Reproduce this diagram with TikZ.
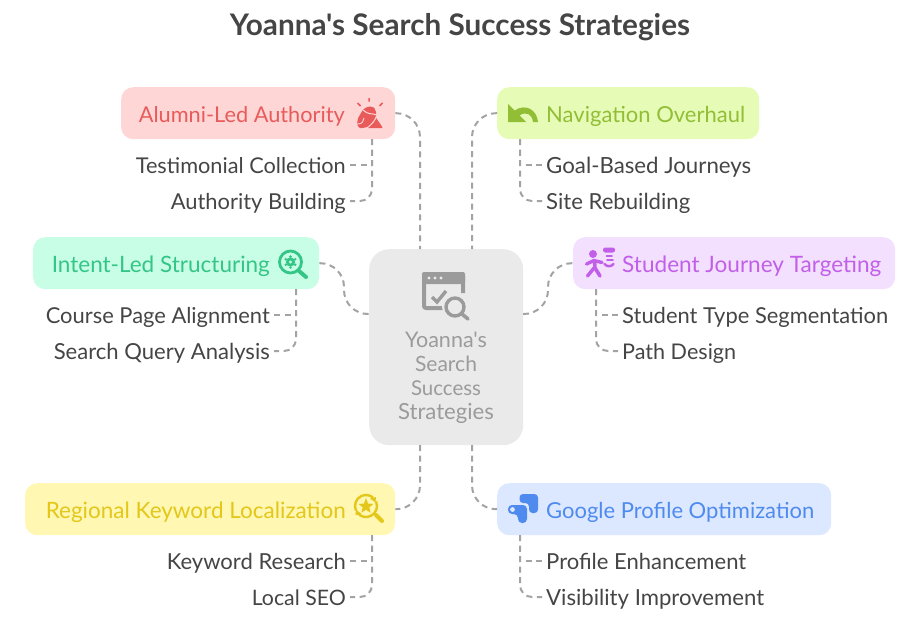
\documentclass[tikz,border=0pt]{standalone}
\usepackage{fontspec}
\setmainfont{Lato}[Ligatures=TeXOff]
\usetikzlibrary{calc}
\newcommand\fitto[2]{\resizebox{#1pt}{!}{#2}}
\definecolor{inkc}{HTML}{454545}
\definecolor{connc}{HTML}{A3A3A3}
\definecolor{hubfill}{HTML}{EAEAEA}
\definecolor{hubink}{HTML}{9B9B9B}
\definecolor{redfill}{HTML}{FFD6D6}
\definecolor{redink}{HTML}{E85B5B}
\definecolor{limefill}{HTML}{E6FCB6}
\definecolor{limeink}{HTML}{92BE36}
\definecolor{mintfill}{HTML}{C8FDE6}
\definecolor{mintink}{HTML}{35C587}
\definecolor{lilacfill}{HTML}{F3E0FF}
\definecolor{lilacink}{HTML}{C25FE8}
\definecolor{yellowfill}{HTML}{FFF7B2}
\definecolor{yellowink}{HTML}{E3C71A}
\definecolor{bluefill}{HTML}{DCE8FF}
\definecolor{blueink}{HTML}{4F8BEE}
\tikzset{
  x=1pt,y=-1pt,
  parentbox/.style={draw=none,rounded corners=12pt,minimum height=52pt,inner sep=0pt,anchor=north west},
  parenttext/.style={inner sep=0pt,text height=16pt,text depth=0pt,font=\fontsize{19}{22}\selectfont},
  leaftext/.style={inner ysep=0pt,inner xsep=4pt,text height=16pt,text depth=0pt,text=inkc,font=\fontsize{19}{22}\selectfont},
  hubtext/.style={inner sep=0pt,text height=16pt,text depth=0pt,text=hubink,font=\fontsize{19}{22}\selectfont},
  conn/.style={draw=connc,line width=2pt,dash pattern=on 6pt off 4.5pt},
}
\begin{document}
\begin{tikzpicture}
\useasboundingbox (0,0) rectangle (920,619);
\node[inner sep=0pt,text=inkc,font=\bfseries\fontsize{24}{28}\selectfont] (title) at (460,27) {\fitto{460}{Yoanna's Search Success Strategies}};

% hub
\node[fill=hubfill,rounded corners=20pt,minimum width=154pt,minimum height=196pt,inner sep=0pt,anchor=north west] (hub) at (369,249) {};
\node[hubtext] (hubA) at (446,339) {\fitto{82}{Yoanna's}};
\node[hubtext] (hubB) at (446,363) {\fitto{62}{Search}};
\node[hubtext] (hubC) at (446,387) {\fitto{70}{Success}};
\node[hubtext] (hubD) at (446,411) {\fitto{96}{Strategies}};
\coordinate (hubNW) at (420,249);
\coordinate (hubNE) at (472,249);
\coordinate (hubSW) at (420,445);
\coordinate (hubSE) at (472,445);
\coordinate (hubL) at (369,314);
\coordinate (hubR) at (523,314);
\coordinate (bendLa) at (344,263);
\coordinate (bendLb) at (344,314);
\coordinate (bendRa) at (548,314);
\coordinate (bendRb) at (548,263);

% parents
\node[parentbox,fill=redfill,minimum width=274pt] (alumni) at (121,87) {};
\node[parentbox,fill=limefill,minimum width=262pt] (nav) at (497,87) {};
\node[parentbox,fill=mintfill,minimum width=286pt] (intent) at (33,237) {};
\node[parentbox,fill=lilacfill,minimum width=322pt] (student) at (573,237) {};
\node[parentbox,fill=yellowfill,minimum width=370pt] (regional) at (25,483) {};
\node[parentbox,fill=bluefill,minimum width=334pt] (google) at (497,483) {};

\node[parenttext,text=redink,anchor=east] (alumniT) at (345,114) {\fitto{206}{Alumni-Led Authority}};
\node[parenttext,text=limeink,anchor=west] (navT) at (546,114) {\fitto{199}{Navigation Overhaul}};
\node[parenttext,text=mintink,anchor=east] (intentT) at (270,264) {\fitto{218}{Intent-Led Structuring}};
\node[parenttext,text=lilacink,anchor=west] (studentT) at (622,264) {\fitto{259}{Student Journey Targeting}};
\node[parenttext,text=yellowink,anchor=east] (regionalT) at (346,510) {\fitto{300}{Regional Keyword Localization}};
\node[parenttext,text=blueink,anchor=west] (googleT) at (546,510) {\fitto{268}{Google Profile Optimization}};

% leaves
\node[leaftext,anchor=east] (a1) at (350,165) {\fitto{210}{Testimonial Collection}};
\node[leaftext,anchor=east] (a2) at (350,201) {\fitto{175}{Authority Building}};
\node[leaftext,anchor=west] (n1) at (542,165) {\fitto{205}{Goal-Based Journeys}};
\node[leaftext,anchor=west] (n2) at (542,201) {\fitto{144}{Site Rebuilding}};
\node[leaftext,anchor=east] (i1) at (274,315) {\fitto{224}{Course Page Alignment}};
\node[leaftext,anchor=east] (i2) at (274,351) {\fitto{216}{Search Query Analysis}};
\node[leaftext,anchor=west] (s1) at (618,315) {\fitto{266}{Student Type Segmentation}};
\node[leaftext,anchor=west] (s2) at (618,351) {\fitto{114}{Path Design}};
\node[leaftext,anchor=east] (r1) at (350,561) {\fitto{179}{Keyword Research}};
\node[leaftext,anchor=east] (r2) at (350,597) {\fitto{94}{Local SEO}};
\node[leaftext,anchor=west] (g1) at (542,561) {\fitto{200}{Profile Enhancement}};
\node[leaftext,anchor=west] (g2) at (542,597) {\fitto{218}{Visibility Improvement}};

% trunks
\coordinate (aT) at (372,139);
\coordinate (nT) at (520,139);
\coordinate (iT) at (296,289);
\coordinate (sT) at (596,289);
\coordinate (rT) at (372,535);
\coordinate (gT) at (520,535);

% hub connectors
\draw[conn,rounded corners=24pt] (alumni.east) -| (hubNW);
\draw[conn,rounded corners=24pt] (nav.west) -| (hubNE);
\draw[conn,rounded corners=24pt] (hubSW) |- (regional.east);
\draw[conn,rounded corners=24pt] (hubSE) |- (google.west);
\draw[conn,rounded corners=24pt] (intent.east) -- (bendLa) -- (bendLb) -- (hubL);
\draw[conn,rounded corners=24pt] (hubR) -- (bendRa) -- (bendRb) -- (student.west);

% leaf connectors
\foreach \tr/\p/\q in {aT/a1/a2,iT/i1/i2,rT/r1/r2}{
  \draw[conn] (\tr) |- (\p.east);
  \draw[conn,rounded corners=12pt] (\tr) |- (\q.east);
}
\foreach \tr/\p/\q in {nT/n1/n2,sT/s1/s2,gT/g1/g2}{
  \draw[conn] (\tr) |- (\p.west);
  \draw[conn,rounded corners=12pt] (\tr) |- (\q.west);
}

% hub icon
\begin{scope}[hubink]
  \draw[line width=4pt,rounded corners=2pt] (445,308) -- (424,308) -- (424,274) -- (463,274) -- (463,293);
  \fill[rounded corners=2pt] (422,272) rectangle (465,284);
  \fill[hubfill] (429,278) circle[radius=1.6pt] (435,278) circle[radius=1.6pt] (441,278) circle[radius=1.6pt];
  \draw[line width=3.4pt] (432,297) -- (437,302) -- (446,291);
  \fill[hubfill] (455,307) circle[radius=13pt];
  \draw[line width=3.4pt] (455,307) circle[radius=9pt];
  \draw[line width=3.6pt,line cap=round] (462,314) -- (468,319);
\end{scope}

% alumni icon
\begin{scope}[redink]
  \draw[line width=1.5pt] (369,98) -- (369,101.5) (357.5,103) -- (360.5,106) (382.5,103) -- (379.5,106);
  \fill[rounded corners=2pt] (364,108) -- (372,106) -- (376,110) -- (376,118) -- (370,126) -- (364,128) -- (358,128) -- (357,120) -- (361,113) -- cycle;
  \fill[rounded corners=1pt] (375.5,117) -- (383,128) -- (367,128) -- cycle;
  \draw[redfill,line width=1pt] (363,110) .. controls (368,115) and (372,113) .. (377,115);
  \draw[redfill,line width=1pt] (377,115) .. controls (375,121) and (372,124) .. (367,128);
  \draw[redfill,line width=.9pt] (358,124) .. controls (362,124) and (364,121) .. (364,118);
\end{scope}

% nav icon
\fill[limeink] (508,104) -- (508,122) -- (526,122) -- (519.5,115.5) .. controls (526,111) and (532,114) .. (533,122) -- (538,122) .. controls (537,110) and (526,103) .. (514.5,110.5) -- cycle;

% intent icon
\begin{scope}[mintink]
  \draw[line width=2.8pt] (290.5,262) circle[radius=11pt];
  \draw[line width=4pt,line cap=round] (299,271) -- (306,277);
  \foreach \a in {30,90,...,330}{\fill (290.5,262) ++(\a:5.4pt) circle[radius=1.4pt];}
  \fill (290.5,262) circle[radius=4.6pt];
  \fill[mintfill] (290.5,262) circle[radius=1.7pt];
\end{scope}

% student icon
\begin{scope}[lilacink]
  \fill (593,254) circle[radius=4pt];
  \draw[line width=3.4pt,line cap=round,line join=round] (586.5,264) -- (594,260.5) -- (602,262.5);
  \draw[line width=3.6pt,line cap=round,line join=round] (594.5,261) -- (595,268) -- (600,276);
  \draw[line width=3.4pt,line cap=round] (594,268) -- (587.5,276);
  \fill[rounded corners=2.2pt] (603,247.5) rectangle (615,252.5);
  \draw[line width=1.7pt,line cap=round] (606.5,256) -- (612,256) (607,260) -- (613,260);
  \draw[line width=2.4pt,line cap=round] (604.5,264) .. controls (607,267) and (611,267) .. (613.5,264);
\end{scope}

% regional icon
\begin{scope}[yellowink]
  \draw[line width=2.4pt] (366,506) ++(205:11pt) arc[start angle=205,end angle=50,radius=11pt];
  \draw[line width=2.4pt] (366,506) ++(25:11pt) arc[start angle=25,end angle=-140,radius=11pt];
  \fill (370,498.5) -- (376,497) -- (375.5,502.5) -- cycle;
  \fill (356,509.5) -- (355.5,515) -- (361.5,514) -- cycle;
  \fill (366,498) -- (368,503.6) -- (373.4,503.9) -- (369.3,507.4) -- (370.6,512.7) -- (366,509.8) -- (361.4,512.7) -- (362.7,507.4) -- (358.6,503.9) -- (364,503.6) -- cycle;
  \draw[line width=4pt,line cap=round] (376,515) -- (382,521);
\end{scope}

% google icon
\begin{scope}[blueink]
  \fill[rounded corners=3.5pt] (519.5,494) -- (538,494) -- (538,513) -- (529,513) -- (529,503) -- (519.5,503) -- cycle;
  \fill[rounded corners=4pt] (508,505) -- (527,505) -- (527,523) -- (518,523) -- (518,514) -- (508,514) -- cycle;
  \fill[bluefill] (512.5,509.5) circle[radius=2.4pt];
\end{scope}
\end{tikzpicture}
\end{document}
